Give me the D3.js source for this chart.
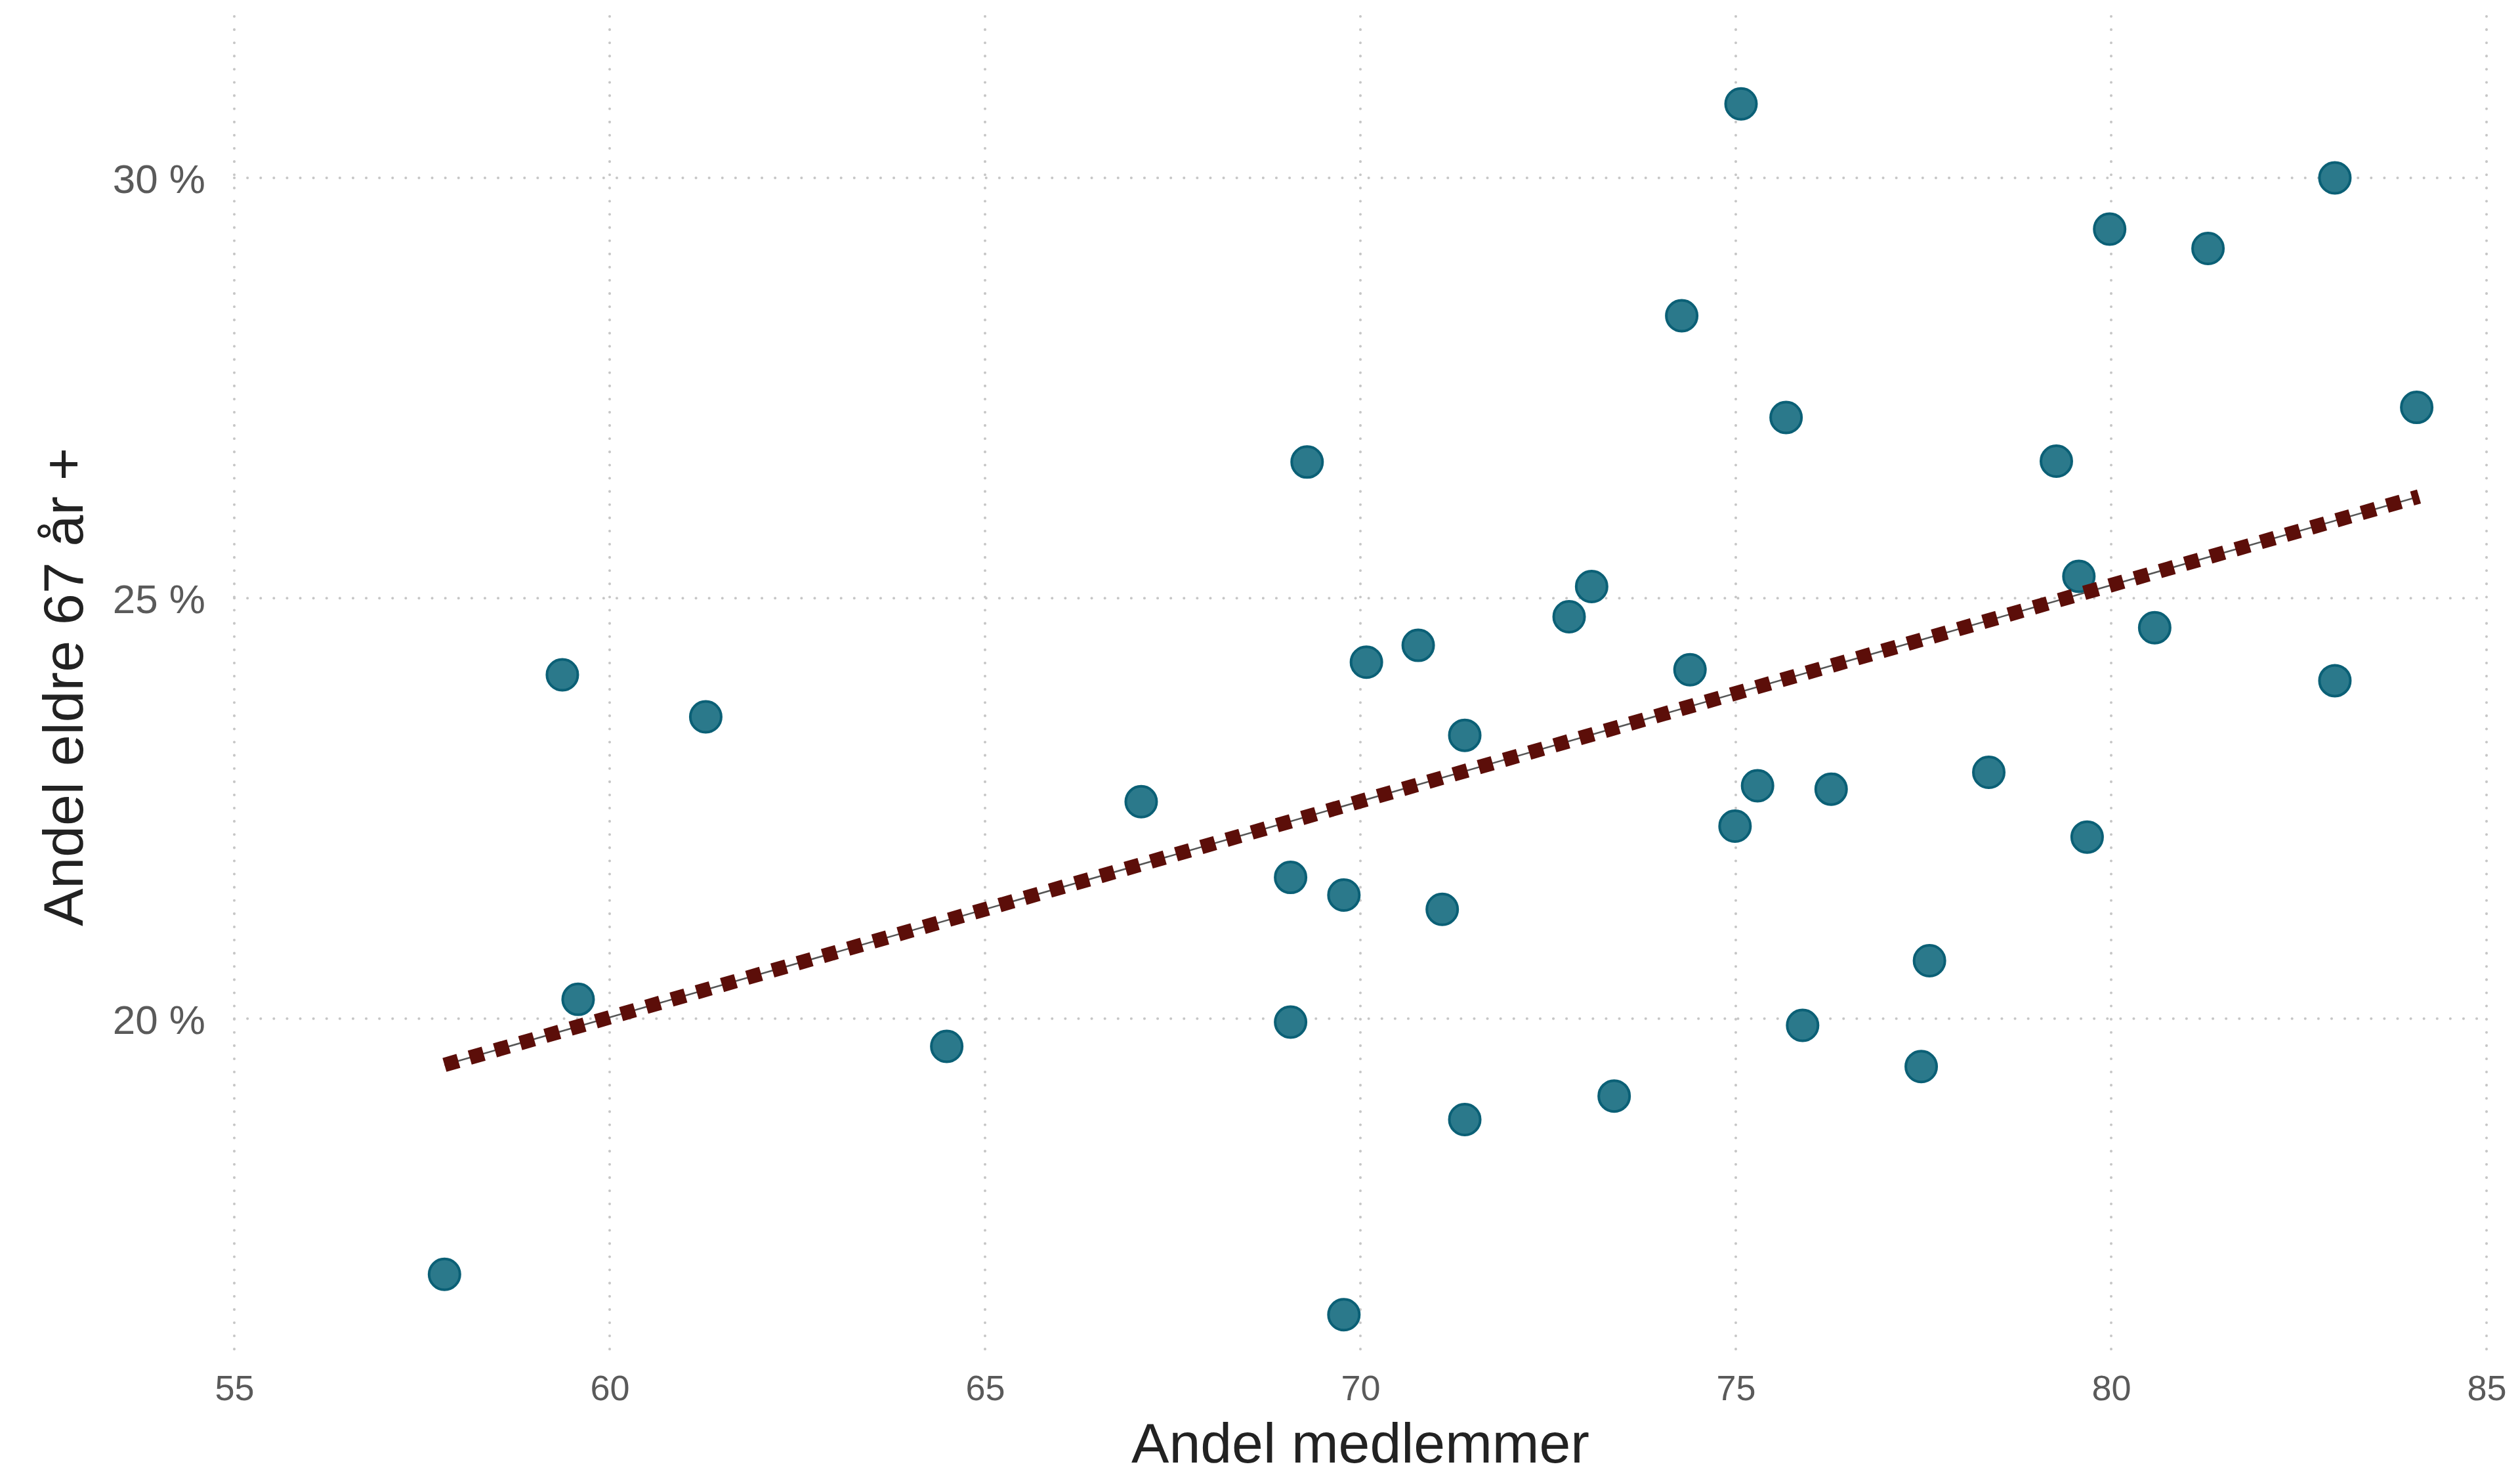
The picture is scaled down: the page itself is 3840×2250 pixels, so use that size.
<!DOCTYPE html>
<html>
<head>
<meta charset="utf-8">
<script src="https://cdn.jsdelivr.net/npm/d3@7"></script>
<style>
  html, body { margin: 0; padding: 0; background: #ffffff; }
  svg { display: block; }
</style>
</head>
<body>
<script>
// Data: share of members (x) vs share of elderly 67+ (y, percent)
const andelMedlemmer = [57.8, 59.37, 59.58, 61.28, 64.49, 67.08, 69.29, 69.07, 69.07, 69.78,
  69.78, 70.08, 70.77, 71.09, 71.39, 71.39, 72.78, 73.08, 73.38, 74.28,
  74.39, 74.99, 75.07, 75.29, 75.67, 75.89, 76.27, 77.47, 77.58, 78.37,
  79.27, 79.57, 79.68, 79.98, 80.58, 81.29, 82.98, 82.98, 84.07];
const andelEldre = [16.96, 24.09, 20.23, 23.59, 19.67, 22.58, 26.62, 21.68, 19.96, 21.47,
  16.48, 24.24, 24.44, 21.30, 23.37, 18.80, 24.78, 25.14, 19.08, 28.36,
  24.15, 22.29, 30.88, 22.77, 27.15, 19.92, 22.73, 19.43, 20.69, 22.93,
  26.63, 25.26, 22.16, 29.39, 24.65, 29.16, 30.00, 24.02, 27.27];
// Trend line endpoints
const trendX = [57.8, 84.1];
const trendY = [19.45, 26.21];
// Ticks
const xTicks = [55, 60, 65, 70, 75, 80, 85];
const yTicks = [20, 25, 30];
const xTitle = "Andel medlemmer";
const yTitle = "Andel eldre 67 år +";

const W = 3840, H = 2250;
const plot = { left: 357, right: 3789, top: 25, bottom: 2068 };

const svg = d3.select("body").append("svg")
  .attr("width", W).attr("height", H)
  .attr("viewBox", `0 0 ${W} ${H}`)
  .style("font-family", "'Liberation Sans', Arial, sans-serif");

svg.append("rect").attr("width", W).attr("height", H).attr("fill", "#ffffff");

const x = d3.scaleLinear().domain([55, 85]).range([plot.left, plot.right]);
const y = d3.scaleLinear().domain([15.97, 31.92]).range([plot.bottom, plot.top]);

// Gridlines
const grid = svg.append("g").attr("class", "grid");
grid.selectAll("line.v").data(xTicks).join("line")
  .attr("class", "v")
  .attr("x1", d => x(d)).attr("x2", d => x(d))
  .attr("y1", plot.top).attr("y2", plot.bottom)
  .attr("stroke", "#c6c6c6").attr("stroke-width", 4)
  .attr("stroke-linecap", "round")
  .attr("stroke-dasharray", "0.1,20");
grid.selectAll("line.h").data(yTicks).join("line")
  .attr("class", "h")
  .attr("x1", plot.left).attr("x2", plot.right)
  .attr("y1", d => y(d)).attr("y2", d => y(d))
  .attr("stroke", "#c6c6c6").attr("stroke-width", 4)
  .attr("stroke-linecap", "round")
  .attr("stroke-dasharray", "0.1,20");

// Axes (labels only, no domain / tick lines)
const xAxis = d3.axisBottom(x).tickValues(xTicks).tickSize(0).tickPadding(0).tickFormat(d3.format("d"));
const gx = svg.append("g").attr("transform", `translate(0, 2133)`).call(xAxis);
gx.select(".domain").remove();
gx.selectAll("text")
  .attr("dy", 0).attr("y", 0)
  .attr("fill", "#5a5a5a")
  .style("font-size", "54px")
  .style("font-family", "'Liberation Sans', Arial, sans-serif");

const yAxis = d3.axisLeft(y).tickValues(yTicks).tickSize(0).tickPadding(0).tickFormat(d => d + " %");
const gy = svg.append("g").attr("transform", `translate(313, 0)`).call(yAxis);
gy.select(".domain").remove();
gy.selectAll("text")
  .attr("x", 0).attr("dy", "0.36em")
  .attr("fill", "#5a5a5a")
  .style("font-size", "62px")
  .style("font-family", "'Liberation Sans', Arial, sans-serif");

// Points
const pts = andelMedlemmer.map((v, i) => ({ x: v, y: andelEldre[i] }));
svg.append("g").selectAll("circle").data(pts).join("circle")
  .attr("cx", d => x(d.x)).attr("cy", d => y(d.y))
  .attr("r", 23.5)
  .attr("fill", "#2b798b")
  .attr("stroke", "#0b6076")
  .attr("stroke-width", 4);

// Trend line
const trend = trendX.map((v, i) => [v, trendY[i]]);
const line = d3.line().x(d => x(d[0])).y(d => y(d[1]));
svg.append("path").datum(trend)
  .attr("d", line)
  .attr("fill", "none")
  .attr("stroke", "#555555")
  .attr("stroke-width", 2.5);
svg.append("path").datum(trend)
  .attr("d", line)
  .attr("fill", "none")
  .attr("stroke", "#5c0e09")
  .attr("stroke-width", 22)
  .attr("stroke-dasharray", "22,18");

// Axis titles
svg.append("text")
  .attr("x", (plot.left + plot.right) / 2).attr("y", 2228)
  .attr("text-anchor", "middle")
  .attr("fill", "#222222")
  .style("font-size", "86px")
  .text(xTitle);

svg.append("text")
  .attr("transform", `translate(126, ${(plot.top + plot.bottom) / 2}) rotate(-90)`)
  .attr("text-anchor", "middle")
  .attr("fill", "#222222")
  .style("font-size", "86px")
  .text(yTitle);
</script>
</body>
</html>
